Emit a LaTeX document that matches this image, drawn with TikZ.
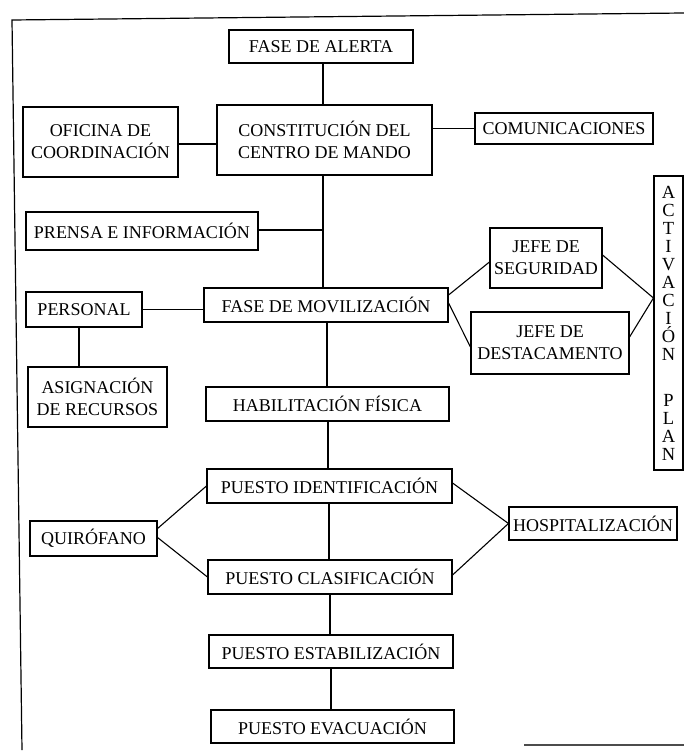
\documentclass[tikz,border=0pt]{standalone}
\usepackage{fontspec}
\setmainfont{Liberation Serif}
\begin{document}
\begin{tikzpicture}[x=1pt,y=-1pt,
  every node/.style={font=\fontsize{18}{22}\selectfont},
  bx/.style={draw,line width=1.1pt,rectangle,inner sep=0pt,align=center},
  ln/.style={line width=1.1pt},
  fr/.style={line width=1.2pt}]
\useasboundingbox (0,0) rectangle (684,751);
% frame
\coordinate (ftl) at (12,20);
\coordinate (ftr) at (684,13);
\coordinate (fbl) at (22,750);
\coordinate (fb1) at (524,745);
\coordinate (fb2) at (684,745);
\draw[fr] (ftr) -- (ftl) -- (fbl);
\draw[fr,black!70] (fb1) -- (fb2);
% nodes
\node[bx,minimum width=184pt,minimum height=33pt] (alerta) at (321,46.5) {FASE DE ALERTA};
\node[bx,minimum width=215pt,minimum height=70pt] (const) at (324.5,140) {CONSTITUCIÓN DEL\\CENTRO DE MANDO};
\node[bx,minimum width=155pt,minimum height=70pt] (ofi) at (100.5,142) {OFICINA DE\\COORDINACIÓN};
\node[bx,minimum width=178pt,minimum height=31pt] (com) at (564,128.5) {COMUNICACIONES};
\node[bx,minimum width=232pt,minimum height=38pt] (prensa) at (142,231) {PRENSA E INFORMACIÓN};
\node[bx,minimum width=244pt,minimum height=34pt] (mov) at (326,305) {FASE DE MOVILIZACIÓN};
\node[bx,minimum width=116pt,minimum height=35pt] (pers) at (84,309.5) {PERSONAL};
\node[bx,minimum width=139pt,minimum height=60pt] (asig) at (97.5,397) {ASIGNACIÓN\\DE RECURSOS};
\node[bx,minimum width=112pt,minimum height=60pt] (jseg) at (546,258) {JEFE DE\\SEGURIDAD};
\node[bx,minimum width=158pt,minimum height=62pt] (jdest) at (550,343) {JEFE DE\\DESTACAMENTO};
\node[bx,minimum width=29pt,minimum height=294pt,
  font=\fontsize{18.5}{18}\selectfont] (act) at (668.5,323)
  {A\\C\\T\\I\\V\\A\\C\\I\\Ó\\N\\[28pt]P\\L\\A\\N};
\node[bx,minimum width=243pt,minimum height=34pt] (hab) at (327.5,404) {HABILITACIÓN FÍSICA};
\node[bx,minimum width=245pt,minimum height=34pt] (pid) at (329.5,486) {PUESTO IDENTIFICACIÓN};
\node[bx,minimum width=127pt,minimum height=35pt] (quir) at (93.5,538.5) {QUIRÓFANO};
\node[bx,minimum width=244pt,minimum height=34pt] (pclas) at (330,577) {PUESTO CLASIFICACIÓN};
\node[bx,minimum width=168pt,minimum height=33pt] (hosp) at (593,523.5) {HOSPITALIZACIÓN};
\node[bx,minimum width=244pt,minimum height=33pt] (pest) at (331,651.5) {PUESTO ESTABILIZACIÓN};
\node[bx,minimum width=243pt,minimum height=33pt] (pevac) at (332.5,726.5) {PUESTO EVACUACIÓN};
% connectors
\draw[ln] ([xshift=2pt]alerta.south) -- ([xshift=2pt]alerta.south |- const.north);
\draw[ln] ([yshift=-2pt]ofi.east) -- ([yshift=-2pt]ofi.east -| const.west);
\draw[ln] (com.west -| const.east) -- (com.west);
\draw[ln] ([xshift=-1.5pt]const.south) -- ([xshift=-1.5pt]const.south |- mov.north);
\draw[ln] ([yshift=1pt]prensa.east) -- ([yshift=1pt,xshift=-1.5pt]prensa.east -| const.south);
\draw[ln] (pers.east) -- (pers.east -| mov.west);
\draw[ln] ([xshift=-5pt]pers.south) -- ([xshift=-5pt]pers.south |- asig.north);
\draw[ln] ([xshift=1pt]mov.south) -- ([xshift=1pt]mov.south |- hab.north);
\draw[ln] ([xshift=0.5pt]hab.south) -- ([xshift=0.5pt]hab.south |- pid.north);
\draw[ln] ([xshift=-0.5pt]pid.south) -- ([xshift=-0.5pt]pid.south |- pclas.north);
\draw[ln] (pclas.south) -- (pclas.south |- pest.north);
\draw[ln] (pest.south) -- (pest.south |- pevac.north);
\draw[ln] ([yshift=10pt]mov.east) -- ([yshift=-4pt]jseg.west);
\draw[ln] ([yshift=2pt]mov.east) -- ([yshift=-4pt]jdest.west);
\draw[ln] ([yshift=3pt]jseg.east) -- ([yshift=25pt]act.west);
\draw[ln] ([yshift=6pt]jdest.east) -- ([yshift=25pt]act.west);
\draw[ln] ([yshift=10pt]quir.east) -- (pid.west);
\draw[ln] ([yshift=1pt]quir.east) -- (pclas.west);
\draw[ln] ([yshift=3pt]pid.east) -- (hosp.west);
\draw[ln] ([yshift=2pt]pclas.east) -- (hosp.west);
\end{tikzpicture}
\end{document}
